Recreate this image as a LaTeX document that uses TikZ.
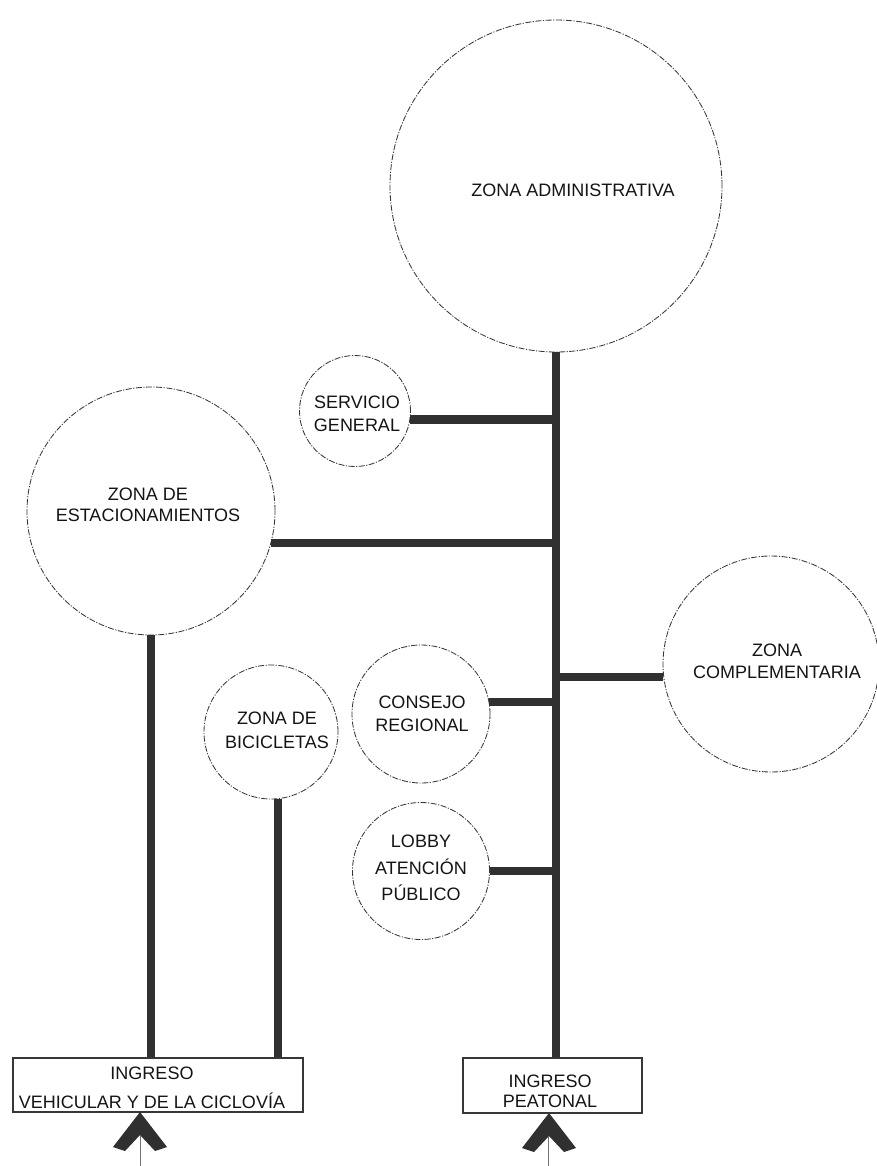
\documentclass[tikz,border=0pt]{standalone}
\usepackage{fontspec}
\setmainfont{Liberation Sans}
\definecolor{barc}{RGB}{48,48,48}
\definecolor{linec}{RGB}{55,55,55}
\definecolor{txtc}{RGB}{20,20,20}
\begin{document}
\begin{tikzpicture}[x=1pt,y=-1pt,
  zone/.style={circle, draw=linec, line width=0.85pt, inner sep=0pt,
    dash pattern=on 6pt off 1.5pt on 1.2pt off 1.5pt},
  bar/.style={draw=barc, line width=8.5pt},
  boxn/.style={draw=linec, line width=1.1pt, rectangle, inner sep=0pt},
  lbl/.style={text=txtc, align=center, inner sep=0pt},
  chev/.style={fill=barc},
  guide/.style={draw=linec!70, line width=0.6pt}]
\useasboundingbox (0,0) rectangle (876,1166);

% circles
\node[zone, minimum size=332pt] (adm) at (556,186) {};
\node[zone, minimum size=111pt] (sg) at (355,411) {};
\node[zone, minimum size=248pt] (est) at (151,511) {};
\node[zone, minimum size=216pt] (comp) at (771,664) {};
\node[zone, minimum size=138pt] (cr) at (421,714) {};
\node[zone, minimum size=137pt] (lob) at (421,871) {};
\node[zone, minimum size=134pt] (bic) at (271,732) {};

% boxes
\node[boxn, minimum width=290pt, minimum height=54pt] (vbox) at (158,1085) {};
\node[boxn, minimum width=179pt, minimum height=55pt] (pbox) at (552.5,1085.5) {};

% trunk and branches
\coordinate (tk) at (adm.south);
\draw[bar] (adm.south) -- (adm.south |- pbox.north);
\draw[bar] (sg.-9) -- (sg.-9 -| tk);
\draw[bar] (est.-15) -- (est.-15 -| tk);
\draw[bar] (comp.187) -- (comp.187 -| tk);
\draw[bar] (cr.10) -- (cr.10 -| tk);
\draw[bar] (lob.east) -- (lob.east -| tk);
\draw[bar] (est.south) -- (est.south |- vbox.north);
\draw[bar] (bic.-84) -- (bic.-84 |- vbox.north);

% labels
\node[lbl, font=\fontsize{18}{21}\selectfont] (tadm) at (573,190) {ZONA ADMINISTRATIVA};
\node[lbl, font=\fontsize{18}{23}\selectfont] (tsg) at (357,414) {SERVICIO\\GENERAL};
\node[lbl, font=\fontsize{18}{21}\selectfont] (test) at (148,505) {ZONA DE\\ESTACIONAMIENTOS};
\node[lbl, font=\fontsize{18}{22}\selectfont] (tcomp) at (777,661) {ZONA\\COMPLEMENTARIA};
\node[lbl, font=\fontsize{18}{23}\selectfont] (tcr) at (422,714) {CONSEJO\\REGIONAL};
\node[lbl, font=\fontsize{18}{26.5}\selectfont] (tlob) at (421,868) {LOBBY\\ATENCIÓN\\PÚBLICO};
\node[lbl, font=\fontsize{18}{24}\selectfont] (tbic) at (277,730) {ZONA DE\\BICICLETAS};
\node[lbl, font=\fontsize{18}{29}\selectfont] (tvb) at (152,1088) {INGRESO\\VEHICULAR Y DE LA CICLOVÍA};
\node[lbl, font=\fontsize{18}{20}\selectfont] (tpb) at (550,1091) {INGRESO\\PEATONAL};

% entrance chevrons
\fill[chev] (140,1112) -- (167,1147) -- (155,1151) -- (140,1135) -- (125,1151) -- (113,1147) -- cycle;
\fill[chev] (549,1113) -- (576,1148) -- (564,1152) -- (549,1136) -- (534,1152) -- (522,1148) -- cycle;
\coordinate (la) at (140,1136);
\coordinate (lb) at (140,1166);
\coordinate (ra) at (548,1137);
\coordinate (rb) at (548,1166);
\draw[guide] (la) -- (lb);
\draw[guide] (ra) -- (rb);
\end{tikzpicture}
\end{document}
